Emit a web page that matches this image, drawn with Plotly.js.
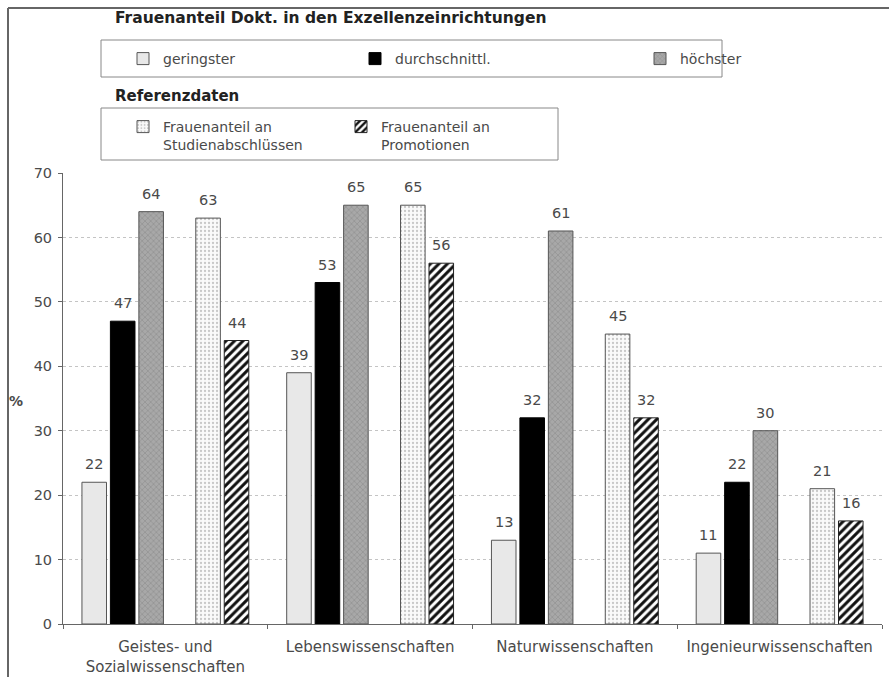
<!DOCTYPE html>
<html>
<head>
<meta charset="utf-8">
<script src="https://cdn.plot.ly/plotly-3.0.1.min.js"></script>
<style>html,body{margin:0;padding:0;background:#fff;}#chart{width:889px;height:677px;}</style>
</head>
<body>
<div id="chart"></div>
<script>
// ---- data ----
const categories = ["Geistes- und<br>Sozialwissenschaften", "Lebenswissenschaften", "Naturwissenschaften", "Ingenieurwissenschaften"];
const geringster = [22, 39, 13, 11];
const durchschnittl = [47, 53, 32, 22];
const hoechster = [64, 65, 61, 30];
const studienabschluesse = [63, 65, 45, 21];
const promotionen = [44, 56, 32, 16];
const seriesNames = ["geringster", "durchschnittl.", "höchster", "Frauenanteil an<br>Studienabschlüssen", "Frauenanteil an<br>Promotionen"];
const legendTitle1 = "Frauenanteil Dokt. in den Exzellenzeinrichtungen";
const legendTitle2 = "Referenzdaten";
const yTicks = [0, 10, 20, 30, 40, 50, 60, 70];

// ---- layout geometry ----
const W = 889, H = 677;
const M = {l: 63, r: 7, t: 173, b: 53, autoexpand: false};
const PW = W - M.l - M.r, PH = H - M.t - M.b;
const px2x = p => (p - M.l) / PW;
const py2y = p => (H - M.b - p) / PH;
const slotW = 0.139, barW = 0.12;
const slots = [0, 1, 2, 4, 5];
const slotCenter = s => (s - 2.5) * slotW;

const FONT = "DejaVu Sans, Verdana, sans-serif";
const TXT = "#4a4a4a";
const LINE = "#555";

const allSeries = [geringster, durchschnittl, hoechster, studienabschluesse, promotionen];
const markers = [
  {color: "#e8e8e8", line: {color: LINE, width: 1}},
  {color: "#000000", line: {color: "#000", width: 1}},
  {color: "#a4a4a4", line: {color: LINE, width: 1}, pattern: {shape: "x", fgcolor: "#8a8a8a", bgcolor: "#a8a8a8", size: 4, solidity: 0.25}},
  {color: "#f7f7f7", line: {color: LINE, width: 1}, pattern: {shape: ".", fgcolor: "#c8c8c8", bgcolor: "#fafafa", size: 4, solidity: 0.25}},
  {color: "#ffffff", line: {color: "#222", width: 1}, pattern: {shape: "/", fgcolor: "#111", bgcolor: "#fff", size: 6, solidity: 0.5}}
];
const legendIds = ["legend", "legend2", "legend3", "legend4", "legend5"];

const traces = allSeries.map((vals, i) => ({
  type: "bar",
  name: seriesNames[i],
  x: categories,
  y: vals,
  offset: slotCenter(slots[i]) - barW / 2,
  width: barW,
  marker: markers[i],
  legend: legendIds[i],
  showlegend: true,
  hoverinfo: "y+name"
}));

const annotations = [];
allSeries.forEach((vals, i) => {
  vals.forEach((v, c) => {
    annotations.push({
      x: c + slotCenter(slots[i]), y: v, xref: "x", yref: "y",
      text: String(v), showarrow: false, yanchor: "bottom", yshift: 8,
      font: {family: FONT, size: 14.5, color: TXT}
    });
  });
});
annotations.push({xref: "paper", yref: "paper", x: px2x(113), y: py2y(18), xanchor: "left", yanchor: "middle",
  text: "<b>" + legendTitle1 + "</b>", showarrow: false, font: {family: FONT, size: 15.5, color: "#222"}});
annotations.push({xref: "paper", yref: "paper", x: px2x(113), y: py2y(96), xanchor: "left", yanchor: "middle",
  text: "<b>" + legendTitle2 + "</b>", showarrow: false, font: {family: FONT, size: 15, color: "#222"}});
annotations.push({xref: "paper", yref: "paper", x: px2x(16), y: py2y(401), xanchor: "center", yanchor: "middle",
  text: "<b>%</b>", showarrow: false, font: {family: FONT, size: 14, color: TXT}});

const legendBase = {xref: "paper", yref: "paper", xanchor: "left", yanchor: "top",
  bgcolor: "rgba(0,0,0,0)", borderwidth: 0, valign: "top",
  font: {family: FONT, size: 14, color: TXT}};
const legPos = [[123, 43], [355, 43], [640, 43], [123, 111], [341, 111]];
const legends = {};
legendIds.forEach((id, i) => {
  legends[id] = Object.assign({}, legendBase, {x: px2x(legPos[i][0]), y: py2y(legPos[i][1])});
});

const shapes = [
  {type: "rect", xref: "paper", yref: "paper", x0: px2x(101), x1: px2x(722), y0: py2y(40), y1: py2y(77), line: {color: "#888", width: 1}},
  {type: "rect", xref: "paper", yref: "paper", x0: px2x(101), x1: px2x(558), y0: py2y(108), y1: py2y(160), line: {color: "#888", width: 1}},
  {type: "line", xref: "paper", yref: "paper", x0: px2x(8), x1: px2x(8), y0: py2y(8), y1: py2y(H), line: {color: "#666", width: 2}},
  {type: "line", xref: "paper", yref: "paper", x0: px2x(8), x1: px2x(W), y0: py2y(8), y1: py2y(8), line: {color: "#666", width: 2}}
];

const layout = Object.assign({
  width: W, height: H,
  margin: M,
  showlegend: true,
  paper_bgcolor: "#fff", plot_bgcolor: "#fff",
  barmode: "overlay",
  font: {family: FONT, size: 14, color: TXT},
  xaxis: {
    type: "category", range: [-0.5, 3.5], automargin: false,
    showline: true, linecolor: "#666", linewidth: 1,
    ticks: "outside", tickson: "boundaries", ticklen: 4, tickcolor: "#666",
    ticklabelstandoff: 9,
    showgrid: false, tickfont: {family: FONT, size: 15, color: TXT}, tickangle: 0
  },
  yaxis: {
    range: [0, 70], tickvals: yTicks, zeroline: false, automargin: false,
    showline: true, linecolor: "#666", linewidth: 1,
    ticks: "outside", ticklen: 4, tickcolor: "#666",
    ticklabelstandoff: 3,
    showgrid: true, gridcolor: "#c4c4c4", griddash: "dot", gridwidth: 1,
    tickfont: {family: FONT, size: 14.5, color: TXT}
  },
  annotations: annotations,
  shapes: shapes
}, legends);

Plotly.newPlot("chart", traces, layout, {displayModeBar: false, responsive: false});
</script>
</body>
</html>
